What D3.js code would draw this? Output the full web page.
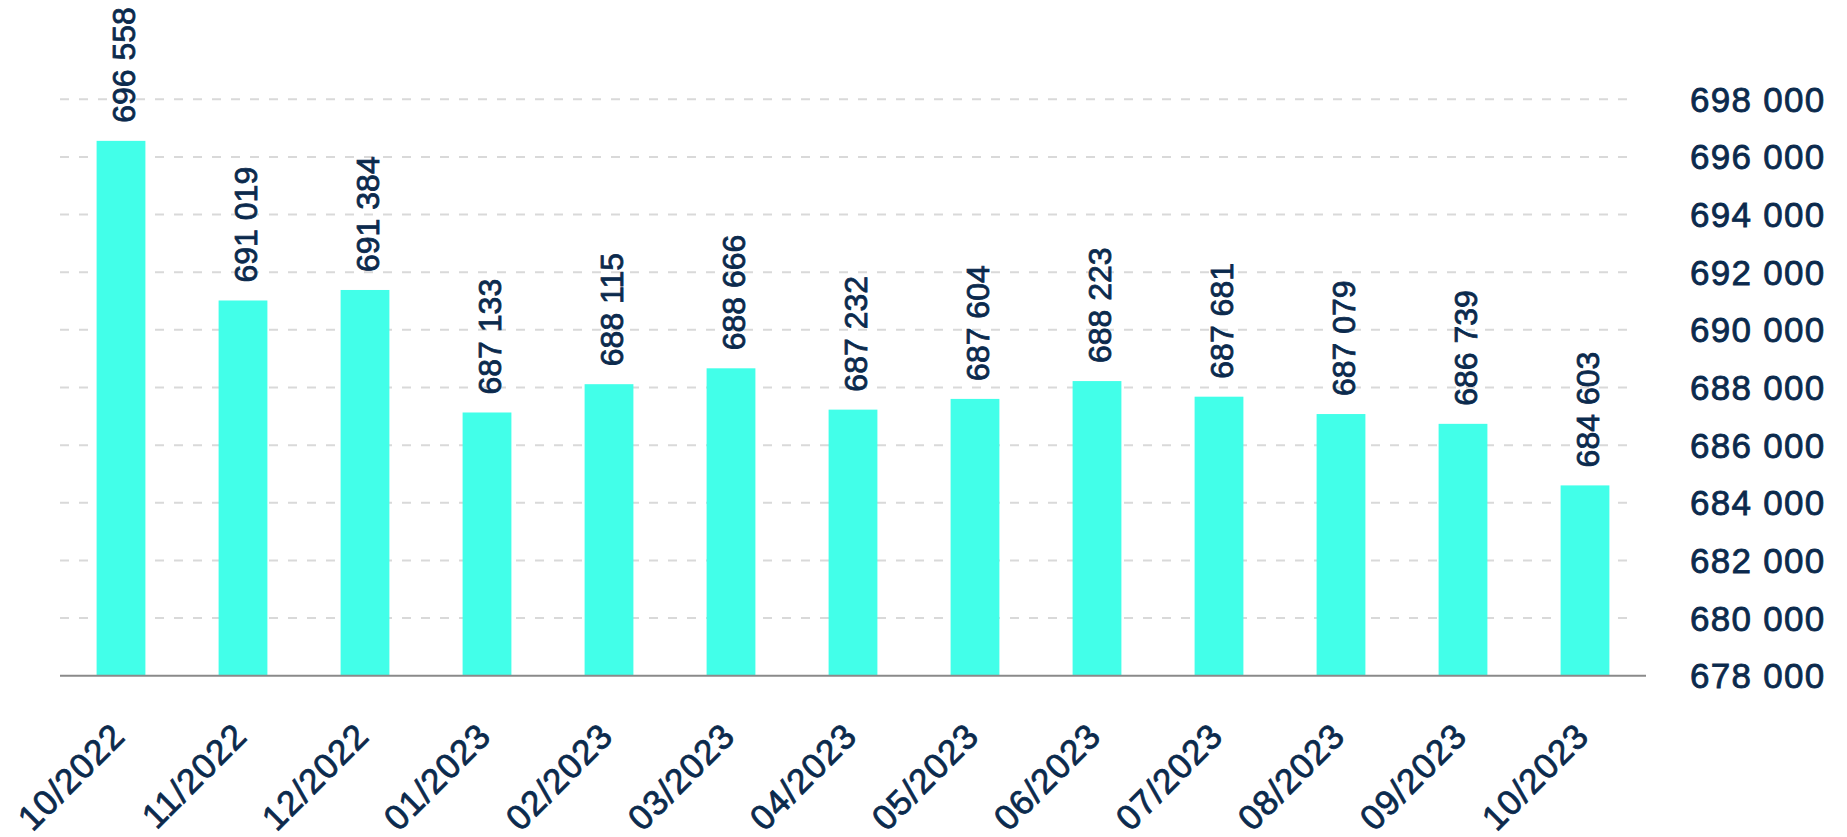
<!DOCTYPE html>
<html>
<head>
<meta charset="utf-8">
<script src="https://d3js.org/d3.v7.min.js"></script>
<style>
  body { margin: 0; background: #fff; }
  text { font-family: "Liberation Sans", Arial, sans-serif; fill: #0b2a4d; stroke: #0b2a4d; stroke-width: 0.8px; }
</style>
</head>
<body>
<div id="chart"></div>
<script>
// data
var months = ["10/2022", "11/2022", "12/2022", "01/2023", "02/2023", "03/2023", "04/2023",
              "05/2023", "06/2023", "07/2023", "08/2023", "09/2023", "10/2023"];
var values = [696558, 691019, 691384, 687133, 688115, 688666, 687232,
              687604, 688223, 687681, 687079, 686739, 684603];
var yTicks = [678000, 680000, 682000, 684000, 686000, 688000, 690000, 692000, 694000, 696000, 698000];

var width = 1847, height = 837;
var plotLeft = 60, plotRight = 1646, plotBase = 675.7, plotTop = 99.3;

var fmt = d3.formatLocale({decimal: ",", thousands: " ", grouping: [3], currency: ["", ""]}).format(",d");

var svg = d3.select("#chart").append("svg")
    .attr("width", width)
    .attr("height", height);

var x = d3.scaleBand()
    .domain(months)
    .range([plotLeft, plotRight])
    .paddingInner(0.6)
    .paddingOuter(0.3);

var y = d3.scaleLinear()
    .domain([678000, 698000])
    .range([plotBase, plotTop]);

// dashed gridlines
svg.selectAll(".grid")
    .data(yTicks.slice(1))
    .enter().append("line")
    .attr("x1", plotLeft).attr("x2", 1637)
    .attr("y1", function(d) { return y(d); })
    .attr("y2", function(d) { return y(d); })
    .attr("stroke", "#d9d9d9")
    .attr("stroke-width", 2)
    .attr("stroke-dasharray", "9,10");

// right axis labels
svg.selectAll(".ylab")
    .data(yTicks)
    .enter().append("text")
    .attr("x", 1690)
    .attr("y", function(d) { return y(d) + 12.5; })
    .attr("font-size", "35px")
    .attr("letter-spacing", "1.3px")
    .text(function(d) { return fmt(d); });

// bars
svg.selectAll(".bar")
    .data(values)
    .enter().append("rect")
    .attr("x", function(d, i) { return x(months[i]); })
    .attr("width", x.bandwidth())
    .attr("y", function(d) { return y(d); })
    .attr("height", function(d) { return plotBase - y(d); })
    .attr("fill", "#42ffe9");

// baseline
svg.append("line")
    .attr("x1", plotLeft).attr("x2", plotRight)
    .attr("y1", plotBase).attr("y2", plotBase)
    .attr("stroke", "#8a8a8a")
    .attr("stroke-width", 2);

// value labels
svg.selectAll(".vlab")
    .data(values)
    .enter().append("text")
    .attr("transform", function(d, i) {
        var cx = x(months[i]) + x.bandwidth() / 2 + 14;
        return "translate(" + cx + "," + (y(d) - 18) + ")rotate(-90)";
    })
    .attr("font-size", "32px")
    .text(function(d) { return fmt(d); });

// month labels
svg.selectAll(".xlab")
    .data(months)
    .enter().append("text")
    .attr("transform", function(d) {
        var cx = x(d) + x.bandwidth() / 2 + 6;
        return "translate(" + cx + ",738)rotate(-45)";
    })
    .attr("text-anchor", "end")
    .attr("font-size", "35px")
    .attr("letter-spacing", "1px")
    .text(function(d) { return d; });
</script>
</body>
</html>
